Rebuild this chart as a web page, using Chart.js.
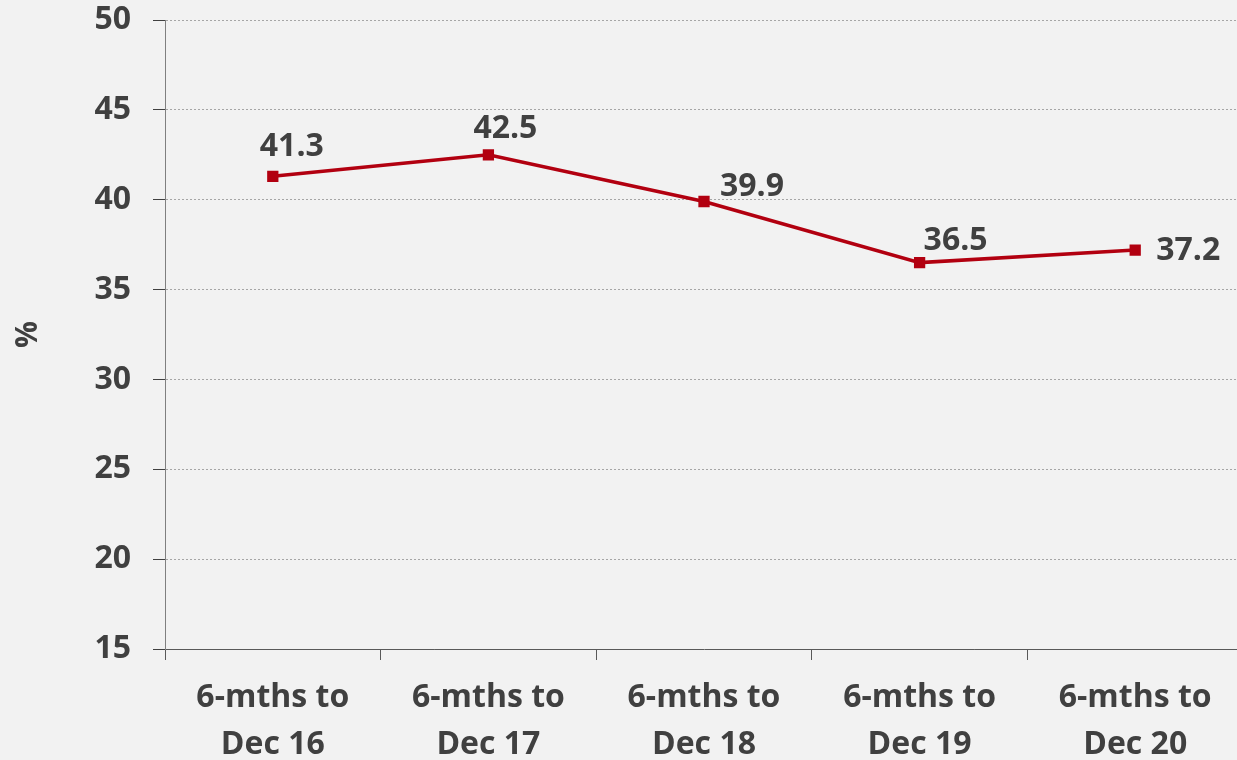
<!DOCTYPE html>
<html>
<head>
<meta charset="utf-8">
<script src="https://cdn.jsdelivr.net/npm/chart.js@4/dist/chart.umd.min.js"></script>
<style>
  html, body { margin: 0; padding: 0; background: #f2f2f2; overflow: hidden; }
  #wrap { width: 1243px; height: 760px; }
  #chart { display: block; }
</style>
</head>
<body>
<div id="wrap"><canvas id="chart" width="1243" height="760"></canvas></div>
<script>
// Share of total, six-month periods
const categories = [
  ['6-mths to', 'Dec 16'],
  ['6-mths to', 'Dec 17'],
  ['6-mths to', 'Dec 18'],
  ['6-mths to', 'Dec 19'],
  ['6-mths to', 'Dec 20']
];
const shareValues = [41.3, 42.5, 39.9, 36.5, 37.2];
const yMin = 15;
const yMax = 50;
const yStep = 5;
const yTitle = '%';

const FONT = '"Open Sans", Lato, sans-serif';
const TEXT = '#404040';
const LINE_RED = '#B20010';

// Value labels drawn next to each point (offset from the marker, in px)
const valueLabels = {
  id: 'valueLabels',
  afterDatasetsDraw(chart, args, opts) {
    const { ctx } = chart;
    const meta = chart.getDatasetMeta(0);
    const data = chart.data.datasets[0].data;
    ctx.save();
    ctx.font = 'bold 32px ' + FONT;
    ctx.fillStyle = TEXT;
    ctx.textBaseline = 'middle';
    meta.data.forEach((pt, i) => {
      const o = opts.offsets[i];
      ctx.textAlign = o.align;
      ctx.fillText(data[i].toFixed(1), pt.x + o.dx, pt.y + o.dy);
    });
    ctx.restore();
  }
};

new Chart(document.getElementById('chart'), {
  type: 'line',
  data: {
    labels: categories,
    datasets: [{
      data: shareValues,
      borderColor: LINE_RED,
      backgroundColor: LINE_RED,
      borderWidth: 3.5,
      pointStyle: 'rect',
      pointRadius: 5.5,
      pointHoverRadius: 5.5,
      tension: 0
    }]
  },
  options: {
    responsive: false,
    animation: false,
    events: [],
    layout: { autoPadding: false, padding: { top: 20, right: 0, bottom: 0, left: 0 } },
    plugins: {
      legend: { display: false },
      tooltip: { enabled: false },
      valueLabels: {
        offsets: [
          { dx: 19, dy: -29, align: 'center' },
          { dx: 17, dy: -26, align: 'center' },
          { dx: 16, dy: -15, align: 'left' },
          { dx: 4, dy: -22, align: 'left' },
          { dx: 21, dy: 1, align: 'left' }
        ]
      }
    },
    scales: {
      x: {
        offset: true,
        grid: {
          offset: true,
          drawOnChartArea: false,
          drawTicks: true,
          tickLength: 11,
          tickColor: '#595959',
          tickWidth: 1
        },
        border: { display: true, color: '#595959', width: 1 },
        ticks: {
          color: TEXT,
          font: { family: FONT, size: 32, weight: 'bold', lineHeight: 1.45 },
          padding: 15,
          maxRotation: 0,
          autoSkip: false
        },
        afterFit(scale) {
          scale.height = 111;
          scale.paddingLeft = 0;
          scale.paddingRight = 0;
        }
      },
      y: {
        min: yMin,
        max: yMax,
        grid: {
          color: '#a6a6a6',
          lineWidth: 1,
          drawTicks: true,
          tickLength: 12,
          tickColor: '#404040',
          tickBorderDash: []
        },
        border: { display: true, color: '#808080', width: 1, dash: [2, 2] },
        ticks: {
          stepSize: yStep,
          color: TEXT,
          font: { family: FONT, size: 32, weight: 'bold' },
          padding: 22
        },
        title: {
          display: true,
          text: yTitle,
          color: TEXT,
          font: { family: FONT, size: 30, weight: 'bold' },
          padding: { top: 10, bottom: 0 }
        },
        afterFit(scale) {
          scale.width = 165;
          scale.paddingTop = 0;
          scale.paddingBottom = 0;
        }
      }
    }
  },
  plugins: [valueLabels]
});
</script>
</body>
</html>
